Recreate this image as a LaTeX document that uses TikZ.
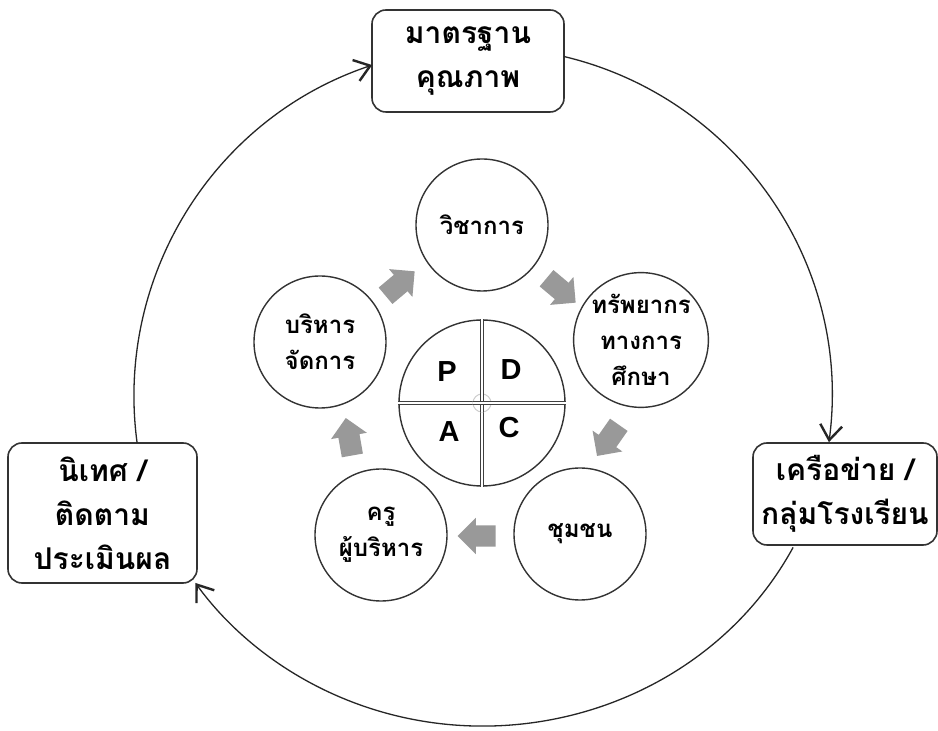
\documentclass[tikz,border=0pt]{standalone}
\usepackage{fontspec}
\setmainfont{Liberation Sans}
\newfontfamily\thaifont[Script=Thai]{Loma}
\usetikzlibrary{arrows.meta,shapes.arrows}
\begin{document}
\begin{tikzpicture}[x=1pt,y=1pt,
  box/.style={draw=black!80, line width=1.6pt, rounded corners=14pt, fill=white, align=center, inner sep=0pt,
    font=\thaifont\bfseries\fontsize{30}{44}\selectfont},
  ring/.style={circle, draw=black!80, line width=1.4pt, fill=white, inner sep=0pt, minimum size=132pt, align=center,
    font=\thaifont\bfseries\fontsize{24}{36}\selectfont},
  cycleline/.style={line width=1.3pt, draw=black!85, -{Straight Barb[length=15pt,width=22pt,line width=2.4pt]}},
  blockarrow/.style={single arrow, fill=black!40, draw=none, minimum height=38pt, minimum width=0pt,
    single arrow head extend=7.5pt, inner xsep=0pt, inner ysep=10.5pt, outer sep=0pt},
  letter/.style={font=\bfseries\fontsize{29}{30}\selectfont, inner sep=0pt},
  crossline/.style={draw=black!75, line width=1.3pt, double=white, double distance=2pt}
]
\useasboundingbox[fill=white] (0,0) rectangle (938,731);

% outer boxes
\node[box, minimum width=192pt, minimum height=102pt] (top) at (468,670) {มาตรฐาน\\คุณภาพ};
\node[box, minimum width=184pt, minimum height=102pt] (right) at (845,237) {เครือข่าย /\\กลุ่มโรงเรียน};
\node[box, minimum width=189pt, minimum height=140pt] (left) at (102.5,218) {นิเทศ /\\ติดตาม\\ประเมินผล};

% cycle arcs
\coordinate (a1) at (563.9,674.5);
\coordinate (b1) at (793.1,183.6);
\coordinate (c1) at (137.1,288.2);
\draw[cycleline] (a1) arc[start angle=76.6, end angle=-7.6, radius=349];
\draw[cycleline] (b1) arc[start angle=-27.3, end angle=-145.5, x radius=349, y radius=330];
\draw[cycleline] (c1) arc[start angle=187.7, end angle=108.5, radius=349];

% five circles
\node[ring] (vichakan) at (482,506) {วิชาการ};
\node[ring] (sappayakorn) at (641,391) {ทรัพยากร\\ทางการ\\ศึกษา};
\node[ring] (chumchon) at (580,197) {ชุมชน};
\node[ring] (khru) at (381,196) {ครู\\ผู้บริหาร};
\node[ring] (borihan) at (320,389) {บริหาร\\จัดการ};

% gray block arrows
\node[blockarrow, rotate=40] (g1) at (396,444) {};
\node[blockarrow, rotate=-40] (g2) at (557,444) {};
\node[blockarrow, rotate=235] (g3) at (611,295) {};
\node[blockarrow, rotate=180] (g4) at (482,195) {};
\node[blockarrow, rotate=100] (g5) at (350,289) {};

% PDCA circle
\node[circle, draw=black!80, line width=1.4pt, fill=white, minimum size=166pt, inner sep=0pt] (pdca) at (482,328) {};
\draw[crossline] (pdca.north) -- (pdca.south);
\draw[crossline] (pdca.west) -- (pdca.east);
\node[circle, draw=black!20, line width=1pt, minimum size=18pt, inner sep=0pt] (hub) at (pdca.center) {};
\draw[crossline] (hub.north) -- (hub.south);
\draw[crossline] (hub.west) -- (hub.east);
\node[letter] (P) at (447,359) {P};
\node[letter] (D) at (511,361) {D};
\node[letter] (A) at (449,299) {A};
\node[letter] (C) at (509,303) {C};
\end{tikzpicture}
\end{document}
